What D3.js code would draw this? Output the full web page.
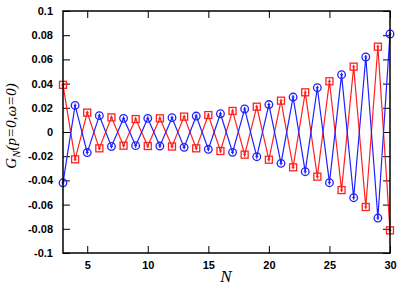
<!DOCTYPE html>
<html><head><meta charset="utf-8">
<script src="https://cdn.jsdelivr.net/npm/d3@7"></script>
<style>body{margin:0;background:#fff}</style>
</head><body><svg id="c" width="411" height="288"></svg>
<script>
const N = d3.range(3, 31);
const blueVals = [-0.042, 0.022, -0.017, 0.0135, -0.012, 0.0113, -0.0113, 0.0113, -0.0116, 0.0118, -0.0127, 0.0132, -0.0143, 0.0151, -0.0168, 0.019, -0.0204, 0.0227, -0.0259, 0.0289, -0.0328, 0.0366, -0.0419, 0.0474, -0.0543, 0.062, -0.0711, 0.081];
const redVals = [0.039, -0.0226, 0.016, -0.0135, 0.0121, -0.0113, 0.0107, -0.0116, 0.0113, -0.012, 0.0127, -0.0135, 0.014, -0.0157, 0.0174, -0.0187, 0.0209, -0.0229, 0.0259, -0.0292, 0.0328, -0.0369, 0.0419, -0.048, 0.054, -0.062, 0.0705, -0.0813];
const xTicks = [5, 10, 15, 20, 25, 30];
const yTicks = [-0.1, -0.08, -0.06, -0.04, -0.02, 0, 0.02, 0.04, 0.06, 0.08, 0.1];
const yTickLabels = ["-0.1", "-0.08", "-0.06", "-0.04", "-0.02", "0", "0.02", "0.04", "0.06", "0.08", "0.1"];

const L = 63, R = 390, T = 11, B = 253;
const svg = d3.select("#c");
const x = d3.scaleLinear().domain([3, 30]).range([L, R]);
const y = d3.scaleLinear().domain([-0.1, 0.1]).range([B, T]);

const tickFont = "bold 11px 'Liberation Sans', Arial, sans-serif";
const tl = 7;

const gB = svg.append("g").attr("transform", `translate(0,${B})`)
  .call(d3.axisBottom(x).tickValues(xTicks).tickFormat(d3.format("d")).tickSizeInner(-tl).tickSizeOuter(0).tickPadding(8));
const gT = svg.append("g").attr("transform", `translate(0,${T})`)
  .call(d3.axisTop(x).tickValues(xTicks).tickFormat("").tickSizeInner(-tl).tickSizeOuter(0));
const gL = svg.append("g").attr("transform", `translate(${L},0)`)
  .call(d3.axisLeft(y).tickValues(yTicks).tickFormat((d,i)=>yTickLabels[i]).tickSizeInner(-tl).tickSizeOuter(0).tickPadding(10));
const gR = svg.append("g").attr("transform", `translate(${R},0)`)
  .call(d3.axisRight(y).tickValues(yTicks).tickFormat("").tickSizeInner(-tl).tickSizeOuter(0));
[gB, gT, gL, gR].forEach(g => {
  g.select(".domain").remove();
  g.selectAll("line").attr("stroke", "#000").attr("stroke-width", 1);
  g.selectAll("text").style("font", tickFont).attr("fill", "#000");
});

function series(vals, color, shape) {
  const line = d3.line().x((d,i)=>x(N[i])).y(d=>y(d));
  svg.append("path").datum(vals).attr("d", line).attr("fill", "none").attr("stroke", color).attr("stroke-width", 1.2);
  const g = svg.append("g");
  vals.forEach((v, i) => {
    const cx = x(N[i]), cy = y(v);
    if (shape === "circle") {
      g.append("circle").attr("cx", cx).attr("cy", cy).attr("r", 3.8).attr("fill", "none").attr("stroke", color).attr("stroke-width", 1.3);
    } else {
      g.append("rect").attr("x", cx - 3.5).attr("y", cy - 3.5).attr("width", 7).attr("height", 7).attr("fill", "none").attr("stroke", color).attr("stroke-width", 1.3);
    }
    g.append("line").attr("x1", cx).attr("x2", cx).attr("y1", cy - 2).attr("y2", cy + 2).attr("stroke", color).attr("stroke-width", 1.2);
    g.append("line").attr("x1", cx - 1.5).attr("x2", cx + 1.5).attr("y1", cy).attr("y2", cy).attr("stroke", color).attr("stroke-width", 1);
  });
}
series(redVals, "#ff2020", "square");
series(blueVals, "#2020ff", "circle");

svg.append("rect").attr("x", L).attr("y", T).attr("width", R - L).attr("height", B - T)
  .attr("fill", "none").attr("stroke", "#000").attr("stroke-width", 1.5);

svg.append("text").attr("x", 226).attr("y", 282).attr("text-anchor", "middle")
  .style("font", "italic 17px 'Liberation Serif', 'Times New Roman', serif").text("N");
const yl = svg.append("text").attr("transform", "translate(16,126) rotate(-90)").attr("text-anchor", "middle")
  .style("font", "italic 15px 'Liberation Serif', 'Times New Roman', serif");
yl.append("tspan").text("G");
yl.append("tspan").attr("dy", 4).style("font-size", "11px").text("N");
yl.append("tspan").attr("dy", -4).text("(p=0,ω=0)");
</script></body></html>
